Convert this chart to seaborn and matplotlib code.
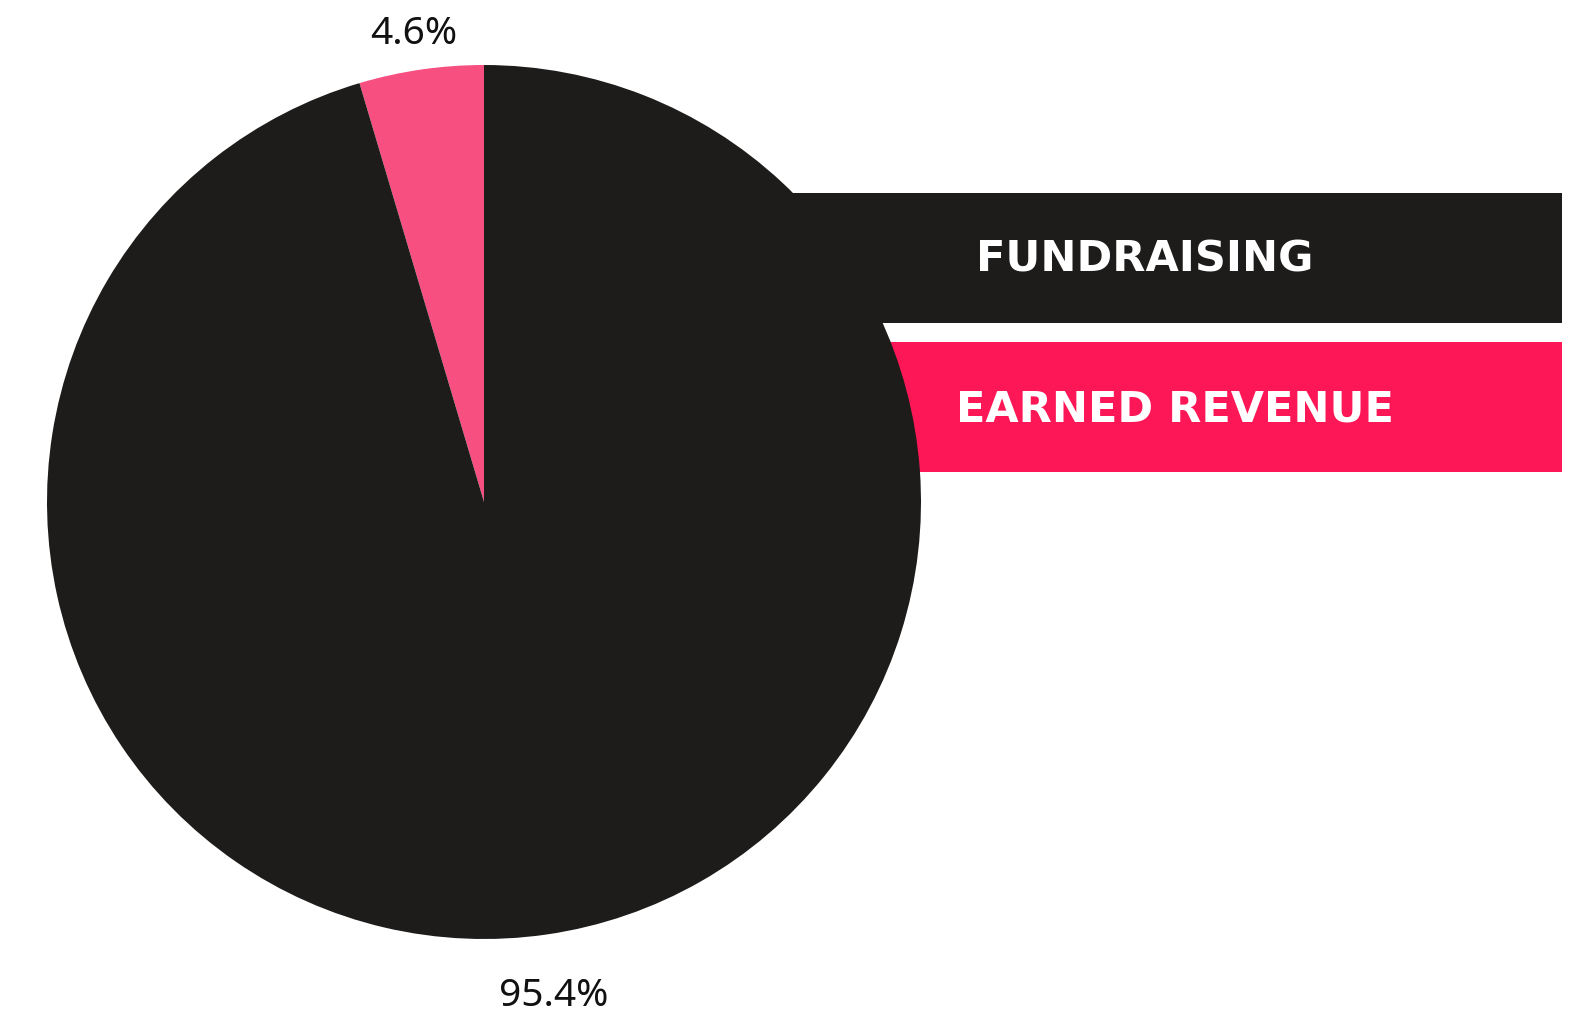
import matplotlib
matplotlib.use('Agg')
import matplotlib.pyplot as plt
import matplotlib.transforms as mtransforms
import seaborn as sns

# donnees
categories = ['EARNED REVENUE', 'FUNDRAISING']
parts = [4.6, 95.4]
couleurs_pie = ['#f74f80', '#1e1c1a']
couleurs_legende = {'FUNDRAISING': '#1e1c1a', 'EARNED REVENUE': '#fe1757'}

sns.set_theme(style='white')
plt.rcParams['font.family'] = ['Noto Sans', 'DejaVu Sans']

W, H = 1577, 1014
fig = plt.figure(figsize=(W / 100, H / 100), dpi=100)
fig.patch.set_facecolor('white')

# legende en arriere-plan (coordonnees pixels)
ax_leg = fig.add_axes([0, 0, 1, 1], zorder=0)
ax_leg.set_xlim(0, W)
ax_leg.set_ylim(H, 0)
ax_leg.axis('off')
boites = {'FUNDRAISING': (728, 193, 323), 'EARNED REVENUE': (788, 342, 472)}
for nom in ['FUNDRAISING', 'EARNED REVENUE']:
    x0, y0, y1 = boites[nom]
    ax_leg.barh((y0 + y1) / 2, 1562 - x0, height=y1 - y0, left=x0,
                color=couleurs_legende[nom], edgecolor='none')
    ax_leg.text((x0 + 1562) / 2, (y0 + y1) / 2 + 2, nom, color='white',
                fontsize=31, fontweight='bold', family='DejaVu Sans',
                ha='center', va='center')

# camembert
cx, cy, r = 484, 502, 437
ax = fig.add_axes([(cx - r) / W, (H - cy - r) / H, 2 * r / W, 2 * r / H], zorder=1)
ax.patch.set_alpha(0)
wedges, textes, pcts = ax.pie(parts, colors=couleurs_pie, startangle=90,
                              counterclock=True, autopct='%1.1f%%',
                              pctdistance=1.112,
                              wedgeprops={'linewidth': 0, 'clip_on': False},
                              textprops={'fontsize': 28, 'color': '#111111'})
ax.set_xlim(-1, 1)
ax.set_ylim(-1, 1)
decal = mtransforms.ScaledTranslation(0, -13 / 100, fig.dpi_scale_trans)
for t in pcts:
    t.set_transform(t.get_transform() + decal)
    t.set_clip_on(False)

plt.savefig('out.png', dpi=100, facecolor='white')
